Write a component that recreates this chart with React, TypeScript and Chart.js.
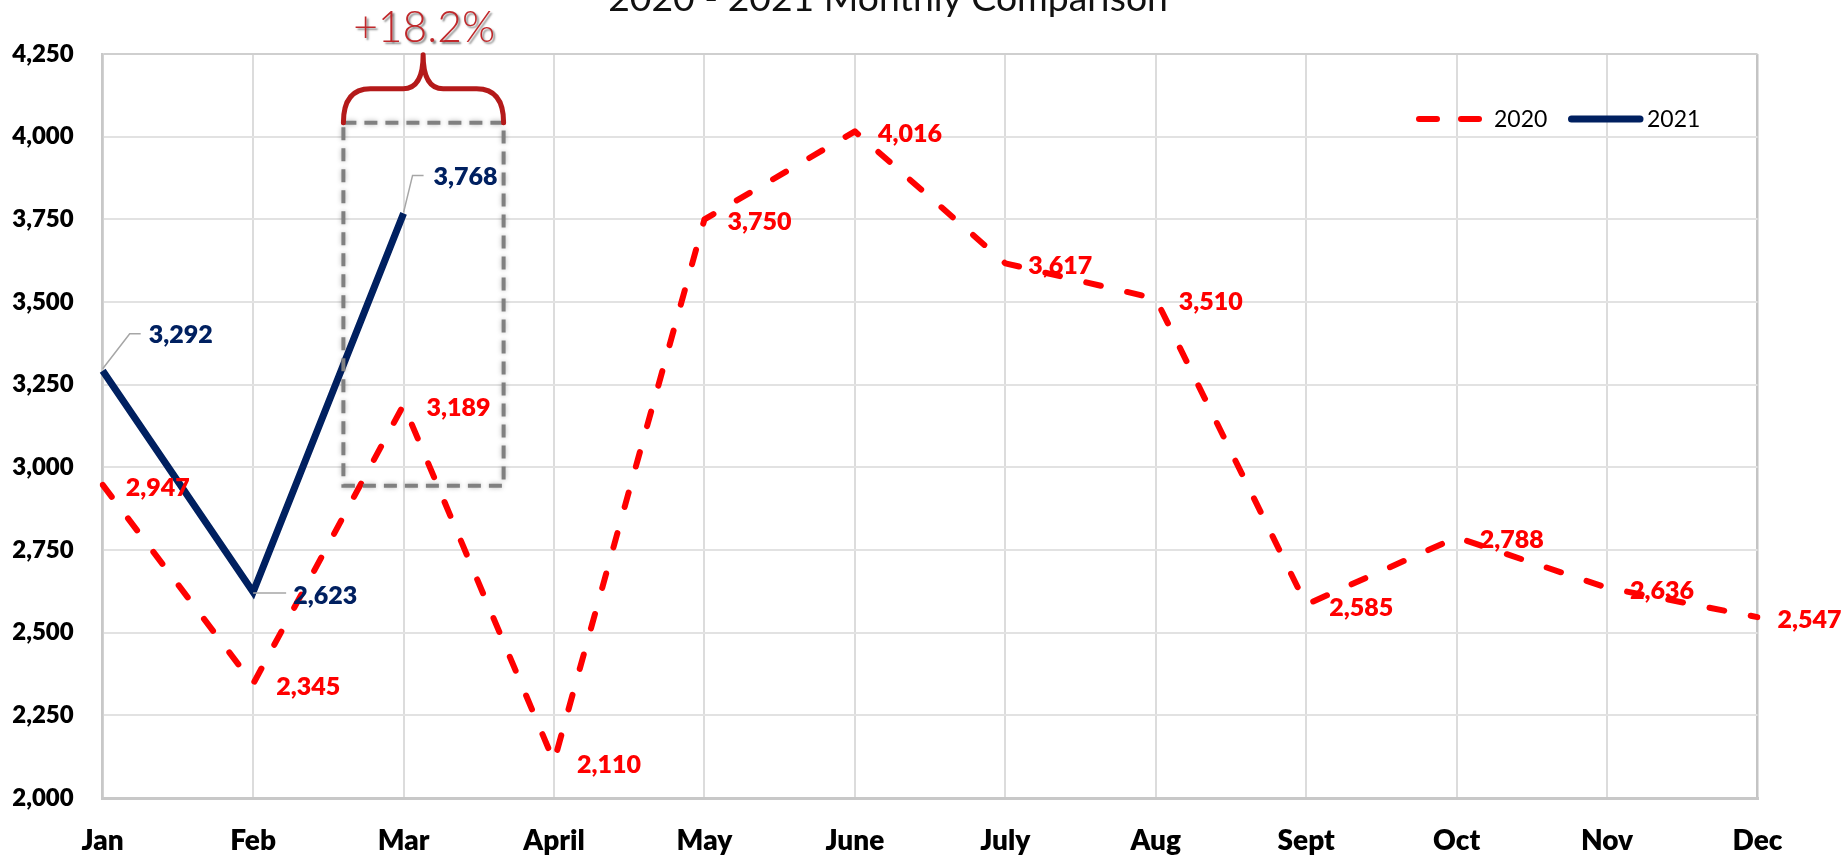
import React, { useEffect, useRef } from "react";
import { Chart, registerables } from "chart.js";

Chart.register(...registerables);

// ---------- data ----------
const months = ["Jan", "Feb", "Mar", "April", "May", "June", "July", "Aug", "Sept", "Oct", "Nov", "Dec"];
const sales2020 = [2947, 2345, 3189, 2110, 3750, 4016, 3617, 3510, 2585, 2788, 2636, 2547];
const sales2021 = [3292, 2623, 3768];
const seriesNames = ["2020", "2021"];
const yMin = 2000;
const yMax = 4250;
const yStep = 250;
const titleText = "2020 - 2021 Monthly Comparison";
const changeText = "+18.2%";
// comparison box, in category index / value units
const boxIndexRange = [1.6, 2.665];
const boxValueRange = [2944, 4042];
const braceMidIndex = 2.13;
const braceArmValue = 4145;
const bracePeakValue = 4248;

// ---------- styles ----------
const RED = "#FF0000";
const NAVY = "#002060";
const FONT = "Lato, 'Open Sans', sans-serif";

const fmt = (v: number) => v.toLocaleString("en-US");

// label offsets (cap-centre) relative to point
const off2020 = sales2020.map((_, i) => (i === 11 ? [20, 2] : [23, 2]));
const off2021 = [
  [46, -37],
  [40, 3],
  [30, -37],
];
const leaders2021 = [
  [[0, -2], [27, -37], [38, -37]],
  [[0, 1], [33, 1]],
  [[0, -1], [9, -38], [20, -38]],
];

function fitSize(ctx: CanvasRenderingContext2D, text: string, weight: string, target: number) {
  ctx.font = `${weight} 100px ${FONT}`;
  const w = ctx.measureText(text).width;
  return (100 * target) / w;
}

const overlayPlugin = {
  id: "overlay",
  afterDatasetsDraw(chart: any) {
    const { ctx, scales, chartArea } = chart;
    const x = scales.x;
    const y = scales.y;

    // comparison box
    const bl = x.getPixelForValue(boxIndexRange[0]);
    const br = x.getPixelForValue(boxIndexRange[1]);
    const bt = y.getPixelForValue(boxValueRange[1]);
    const bb = y.getPixelForValue(boxValueRange[0]);
    ctx.save();
    ctx.shadowColor = "rgba(0,0,0,0.28)";
    ctx.shadowBlur = 5;
    ctx.strokeStyle = "#808080";
    ctx.lineWidth = 4;
    ctx.setLineDash([13, 8]);
    ctx.strokeRect(bl, bt, br - bl, bb - bt);
    ctx.restore();

    // brace
    const mid = x.getPixelForValue(braceMidIndex);
    const arm = y.getPixelForValue(braceArmValue);
    const peak = y.getPixelForValue(bracePeakValue);
    const r1 = 27;
    const r2 = 20;
    ctx.save();
    ctx.strokeStyle = "#B41A1A";
    ctx.lineWidth = 5;
    ctx.lineCap = "round";
    ctx.lineJoin = "round";
    ctx.beginPath();
    ctx.moveTo(bl, bt);
    ctx.quadraticCurveTo(bl, arm, bl + r1, arm);
    ctx.lineTo(mid - r2, arm);
    ctx.quadraticCurveTo(mid, arm, mid, peak);
    ctx.quadraticCurveTo(mid, arm, mid + r2, arm);
    ctx.lineTo(br - r1, arm);
    ctx.quadraticCurveTo(br, arm, br, bt);
    ctx.stroke();
    ctx.restore();

    // +18.2%
    ctx.save();
    const cs = fitSize(ctx, changeText, "300", 142);
    ctx.font = `300 ${cs}px ${FONT}`;
    ctx.textAlign = "center";
    ctx.textBaseline = "alphabetic";
    ctx.shadowColor = "rgba(0,0,0,0.5)";
    ctx.shadowOffsetX = 2;
    ctx.shadowOffsetY = 2;
    ctx.shadowBlur = 2;
    ctx.fillStyle = "#C0282B";
    ctx.fillText(changeText, mid + 1, peak - 13);
    ctx.restore();

    // title (partly above the canvas)
    ctx.save();
    const ts = fitSize(ctx, titleText, "400", 560);
    ctx.font = `400 ${ts}px ${FONT}`;
    ctx.textAlign = "center";
    ctx.textBaseline = "alphabetic";
    ctx.fillStyle = "#111";
    ctx.fillText(titleText, 888, 11);
    ctx.restore();

    // legend
    const ly = chartArea.top + 65;
    ctx.save();
    ctx.lineCap = "round";
    ctx.strokeStyle = RED;
    ctx.lineWidth = 6;
    ctx.setLineDash([18, 24]);
    ctx.beginPath();
    ctx.moveTo(1419, ly);
    ctx.lineTo(1480, ly);
    ctx.stroke();
    ctx.setLineDash([]);
    ctx.strokeStyle = NAVY;
    ctx.lineWidth = 7;
    ctx.beginPath();
    ctx.moveTo(1571.5, ly);
    ctx.lineTo(1640, ly);
    ctx.stroke();
    ctx.fillStyle = "#000";
    ctx.font = `400 23px ${FONT}`;
    ctx.textBaseline = "middle";
    ctx.textAlign = "left";
    ctx.fillText(seriesNames[0], 1494, ly + 1);
    ctx.fillText(seriesNames[1], 1647, ly + 1);
    ctx.restore();

    // leader lines
    const meta2021 = chart.getDatasetMeta(1);
    ctx.save();
    ctx.strokeStyle = "#A6A6A6";
    ctx.lineWidth = 1.5;
    meta2021.data.forEach((pt: any, i: number) => {
      const pts = leaders2021[i];
      ctx.beginPath();
      ctx.moveTo(pt.x + pts[0][0], pt.y + pts[0][1]);
      for (let k = 1; k < pts.length; k++) ctx.lineTo(pt.x + pts[k][0], pt.y + pts[k][1]);
      ctx.stroke();
    });
    ctx.restore();

    // data labels
    const size = 25;
    ctx.save();
    ctx.font = `800 ${size}px ${FONT}`;
    ctx.textAlign = "left";
    ctx.textBaseline = "alphabetic";
    const capHalf = size * 0.36;
    const meta2020 = chart.getDatasetMeta(0);
    ctx.fillStyle = RED;
    meta2020.data.forEach((pt: any, i: number) => {
      const o = off2020[i];
      ctx.fillText(fmt(sales2020[i]), pt.x + o[0], pt.y + o[1] + capHalf);
    });
    ctx.fillStyle = NAVY;
    meta2021.data.forEach((pt: any, i: number) => {
      const o = off2021[i];
      ctx.fillText(fmt(sales2021[i]), pt.x + o[0], pt.y + o[1] + capHalf);
    });
    ctx.restore();
  },
};

export default function App() {
  const ref = useRef<HTMLCanvasElement>(null);

  useEffect(() => {
    const chart = new Chart(ref.current as HTMLCanvasElement, {
      type: "line",
      data: {
        labels: months,
        datasets: [
          {
            label: seriesNames[0],
            data: sales2020,
            borderColor: RED,
            borderWidth: 6,
            borderDash: [15, 27],
            borderCapStyle: "round",
            borderJoinStyle: "round",
            pointRadius: 0,
            tension: 0,
            fill: false,
          },
          {
            label: seriesNames[1],
            data: sales2021,
            borderColor: NAVY,
            borderWidth: 7,
            borderJoinStyle: "miter",
            borderCapStyle: "butt",
            pointRadius: 0,
            tension: 0,
            fill: false,
          },
        ],
      },
      options: {
        responsive: false,
        devicePixelRatio: 1,
        animation: false,
        layout: { padding: { top: 54, right: 85.5, left: 0, bottom: 0 } },
        plugins: {
          legend: { display: false },
          title: { display: false },
          tooltip: { enabled: false },
        },
        scales: {
          x: {
            offset: false,
            afterFit: (s: any) => {
              s.height = 59;
            },
            grid: {
              color: (c: any) => (c.index === months.length - 1 ? "#c4c4c4" : "#dcdcdc"),
              lineWidth: (c: any) => (c.index === months.length - 1 ? 2.5 : 2),
              drawTicks: false,
            },
            border: { color: "#c8c8c8", width: 3 },
            ticks: {
              autoSkip: false,
              maxRotation: 0,
              padding: 26,
              color: "#000",
              font: { family: FONT, size: 28, weight: "800" },
            },
          },
          y: {
            min: yMin,
            max: yMax,
            afterFit: (s: any) => {
              s.width = 102.7;
            },
            grid: {
              color: (c: any) => (c.tick && c.tick.value === yMax ? "#cfcfcf" : "#e2e2e2"),
              lineWidth: 2,
              drawTicks: false,
            },
            border: { color: "#c8c8c8", width: 2.5 },
            ticks: {
              stepSize: yStep,
              padding: 29,
              color: "#000",
              font: { family: FONT, size: 24, weight: "800" },
              callback: (v: any) => fmt(Number(v)),
            },
          },
        },
      },
      plugins: [overlayPlugin],
    } as any);
    return () => chart.destroy();
  }, []);

  return (
    <div style={{ position: "fixed", left: 0, top: 0, width: 1843, height: 857, background: "#fff" }}>
      <canvas ref={ref} width={1843} height={857} style={{ display: "block", width: 1843, height: 857 }} />
    </div>
  );
}
